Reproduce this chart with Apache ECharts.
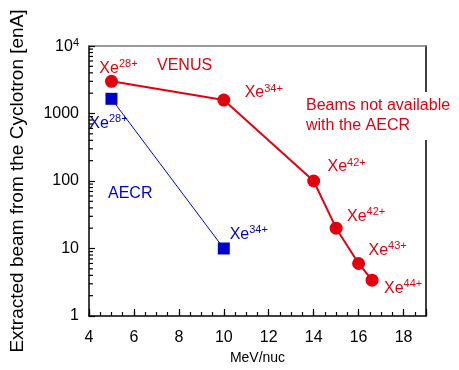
<!DOCTYPE html>
<html>
<head>
<meta charset="utf-8">
<script src="https://cdn.jsdelivr.net/npm/echarts@6/dist/echarts.min.js"></script>
<style>
html, body { margin: 0; padding: 0; background: #fff; }
#chart { width: 459px; height: 370px; }
</style>
</head>
<body>
<div id="chart"></div>
<script>
// data
var venusX = [5, 10, 14, 15, 16, 16.6];
var venusY = [3000, 1580, 100, 20, 6, 3.4];
var venusCharge = ['28+', '34+', '42+', '42+', '43+', '44+'];
var aecrX = [5, 10];
var aecrY = [1650, 10];
var aecrCharge = ['28+', '34+'];
var yMinorTicks = [2, 3, 4, 5, 6, 7, 8, 9, 20, 30, 40, 50, 60, 70, 80, 90,
  200, 300, 400, 500, 600, 700, 800, 900, 2000, 3000, 4000, 5000, 6000, 7000, 8000, 9000];

// label offsets (layout only)
var venusOffsets = [[7, -14], [40, -8], [33, -15], [30, -13], [29, -14], [31, 7]];
var aecrOffsets = [[-3, 24], [25, -15]];

var red = '#e3000f', blue = '#0000cc';
var FONT = 'Liberation Sans';

function labelled(xs, ys, charges, offsets, color) {
  return xs.map(function (x, i) {
    return {
      value: [x, ys[i]],
      label: {
        show: true,
        position: 'inside',
        offset: offsets[i],
        formatter: '{b|Xe}{s|' + charges[i] + '}',
        rich: {
          b: { fontSize: 16, fontFamily: FONT, color: color, lineHeight: 18, verticalAlign: 'bottom' },
          s: { fontSize: 11, fontFamily: FONT, color: color, lineHeight: 18, verticalAlign: 'top' }
        }
      }
    };
  });
}

var myChart = echarts.init(document.getElementById('chart'));

myChart.setOption({
  animation: false,
  grid: { left: 84, right: 33, top: 46, bottom: 50 },
  xAxis: [{
    type: 'value',
    min: 4,
    max: 19,
    interval: 2,
    name: 'MeV/nuc',
    nameLocation: 'middle',
    nameGap: 35,
    nameTextStyle: { fontFamily: FONT, fontSize: 14, color: '#000' },
    axisLine: { show: true, onZero: false, lineStyle: { color: '#000', width: 1.5 } },
    axisTick: { show: true, inside: true, length: 7, lineStyle: { color: '#000', width: 1.2 } },
    axisLabel: {
      show: true, fontFamily: FONT, fontSize: 16, color: '#000', margin: 14,
      formatter: function (v) { return (v % 2 === 0 && v <= 18) ? String(v) : ''; }
    },
    splitLine: { show: false }
  }, {
    // half-unit minor ticks
    type: 'value',
    position: 'bottom',
    min: 4,
    max: 19,
    interval: 0.5,
    axisLine: { show: false, onZero: false },
    axisTick: { show: true, inside: true, length: 4, lineStyle: { color: '#000', width: 1.2 } },
    axisLabel: { show: false },
    splitLine: { show: false }
  }, {
    // top frame line
    type: 'value',
    position: 'top',
    min: 4,
    max: 19,
    axisLine: { show: true, onZero: false, lineStyle: { color: '#777', width: 1.5 } },
    axisTick: { show: false },
    axisLabel: { show: false },
    splitLine: { show: false }
  }],
  yAxis: [{
    type: 'log',
    logBase: 10,
    min: 1,
    max: 10000,
    name: 'Extracted beam from the Cyclotron [enA]',
    nameLocation: 'middle',
    nameGap: 62,
    nameTextStyle: { fontFamily: FONT, fontSize: 19, color: '#000' },
    axisLine: { show: true, onZero: false, lineStyle: { color: '#000', width: 1.5 } },
    axisTick: { show: true, inside: true, length: 6, lineStyle: { color: '#000', width: 1.2 } },
    axisLabel: {
      show: true, fontFamily: FONT, fontSize: 16, color: '#000', margin: 10,
      formatter: function (v) { return v >= 10000 ? '{b|10}{s|4}' : String(v); },
      rich: {
        b: { fontSize: 16, fontFamily: FONT, color: '#000', lineHeight: 18, verticalAlign: 'bottom' },
        s: { fontSize: 11, fontFamily: FONT, color: '#000', lineHeight: 18, verticalAlign: 'top' }
      }
    },
    splitLine: { show: false }
  }, {
    // right frame line
    type: 'value',
    position: 'right',
    min: 0,
    max: 1,
    axisLine: { show: true, onZero: false, lineStyle: { color: '#000', width: 1.5 } },
    axisTick: { show: false },
    axisLabel: { show: false },
    splitLine: { show: false }
  }],
  graphic: [
    { type: 'text', left: 157, top: 58, z: 100,
      style: { text: 'VENUS', fill: red, font: '16px "Liberation Sans"' } },
    { type: 'text', left: 108, top: 186, z: 100,
      style: { text: 'AECR', fill: blue, font: '16px "Liberation Sans"' } },
    { type: 'text', left: 306, top: 92, z: 100,
      style: { text: 'Beams not available\nwith the AECR', fill: red, font: '16px "Liberation Sans"',
        lineHeight: 20, backgroundColor: '#fff', padding: [4, 0, 4, 0] } }
  ],
  series: [{
    name: 'VENUS',
    type: 'line',
    data: labelled(venusX, venusY, venusCharge, venusOffsets, red),
    symbol: 'circle',
    symbolSize: 13,
    itemStyle: { color: red },
    lineStyle: { color: red, width: 2 },
    z: 3
  }, {
    name: 'AECR',
    type: 'line',
    data: labelled(aecrX, aecrY, aecrCharge, aecrOffsets, blue),
    symbol: 'rect',
    symbolSize: 12,
    itemStyle: { color: blue },
    lineStyle: { color: blue, width: 1 },
    z: 2
  }, {
    // log minor ticks on the left axis
    type: 'custom',
    clip: false,
    z: 10,
    data: yMinorTicks.map(function (v) { return [4, v]; }),
    renderItem: function (params, api) {
      var p = api.coord([api.value(0), api.value(1)]);
      return { type: 'line', shape: { x1: p[0], y1: p[1], x2: p[0] + 4, y2: p[1] },
        style: { stroke: '#000', lineWidth: 1.2 } };
    }
  }]
});
</script>
</body>
</html>
